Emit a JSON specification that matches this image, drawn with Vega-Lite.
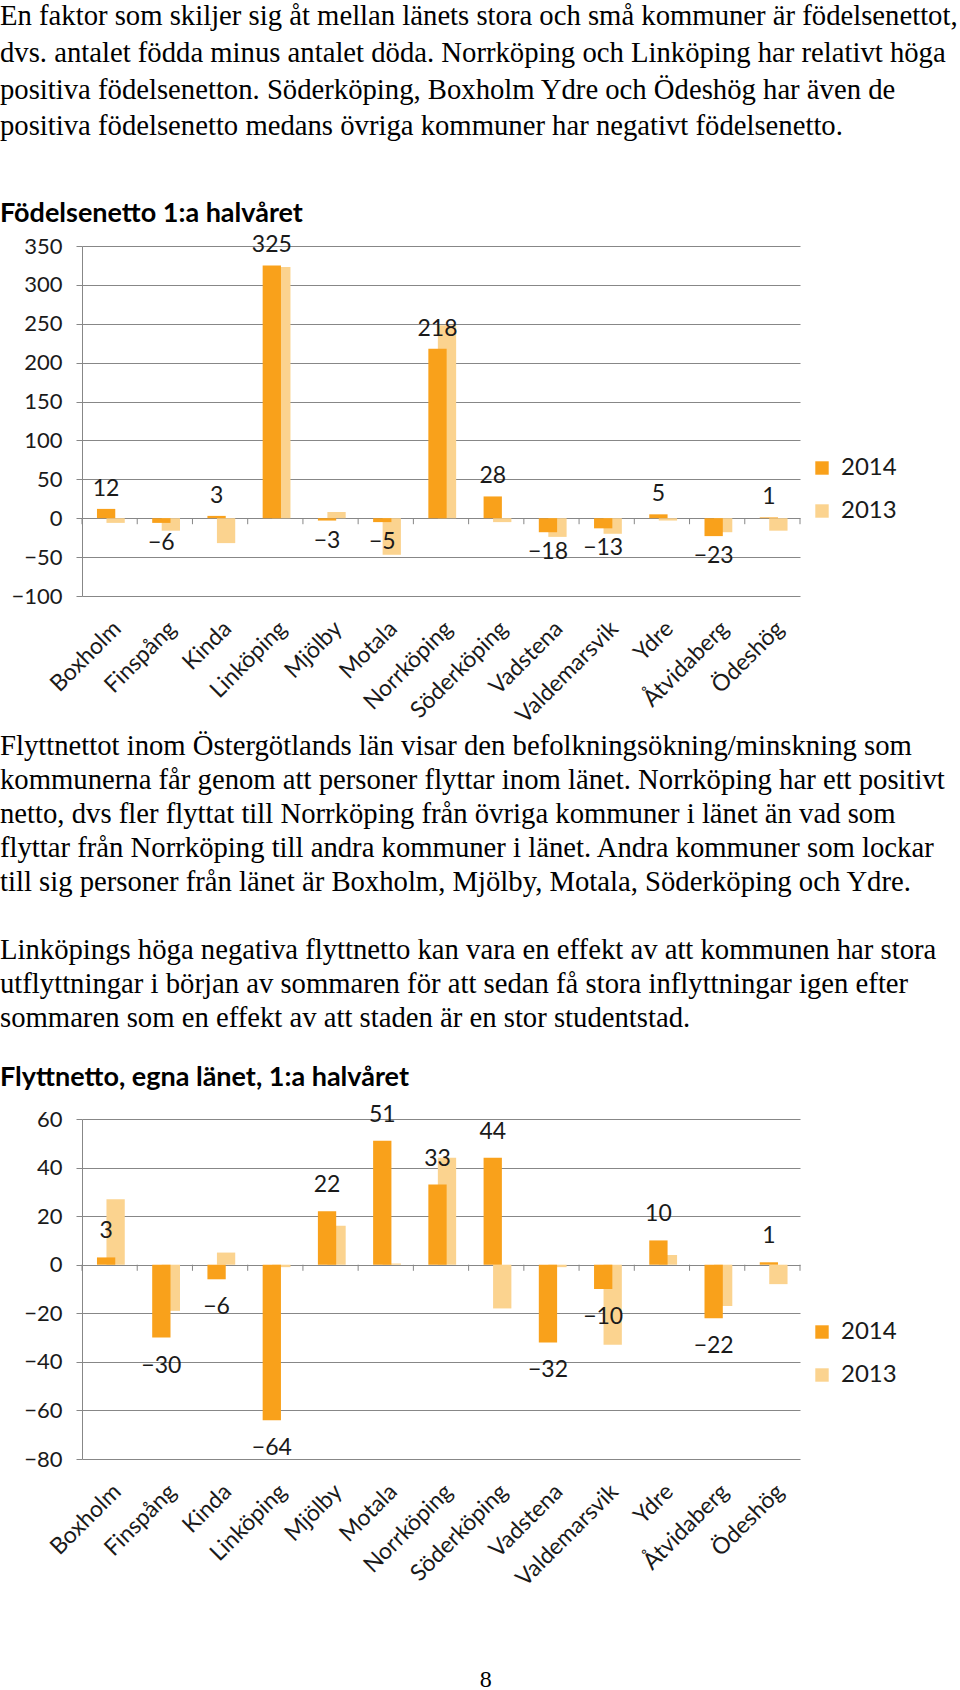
{
  "$schema": "https://vega.github.io/schema/vega-lite/v6.json",
  "padding": {"top": 2, "left": 0, "right": 0, "bottom": 0},
  "background": "white",
  "spacing": 0,
  "resolve": {"scale": {"color": "independent"}, "legend": {"color": "independent"}},
  "config": {
    "view": {"stroke": null},
    "title": {"anchor": "start", "frame": "bounds", "font": "Liberation Serif", "fontSize": 28.7, "fontWeight": "normal", "color": "#000000", "limit": 1000,
      "subtitleFont": "Lato", "subtitleFontSize": 27, "subtitleFontWeight": "bold", "subtitleColor": "#000000"}
  },
  "datasets": {
    "fodelse": [
      {"kommun": "Boxholm", "ar": "2014", "netto": 12}, {"kommun": "Boxholm", "ar": "2013", "netto": -6},
      {"kommun": "Finspång", "ar": "2014", "netto": -6}, {"kommun": "Finspång", "ar": "2013", "netto": -16},
      {"kommun": "Kinda", "ar": "2014", "netto": 3}, {"kommun": "Kinda", "ar": "2013", "netto": -32},
      {"kommun": "Linköping", "ar": "2014", "netto": 325}, {"kommun": "Linköping", "ar": "2013", "netto": 323},
      {"kommun": "Mjölby", "ar": "2014", "netto": -3}, {"kommun": "Mjölby", "ar": "2013", "netto": 8},
      {"kommun": "Motala", "ar": "2014", "netto": -5}, {"kommun": "Motala", "ar": "2013", "netto": -47},
      {"kommun": "Norrköping", "ar": "2014", "netto": 218}, {"kommun": "Norrköping", "ar": "2013", "netto": 248},
      {"kommun": "Söderköping", "ar": "2014", "netto": 28}, {"kommun": "Söderköping", "ar": "2013", "netto": -5},
      {"kommun": "Vadstena", "ar": "2014", "netto": -18}, {"kommun": "Vadstena", "ar": "2013", "netto": -24},
      {"kommun": "Valdemarsvik", "ar": "2014", "netto": -13}, {"kommun": "Valdemarsvik", "ar": "2013", "netto": -20},
      {"kommun": "Ydre", "ar": "2014", "netto": 5}, {"kommun": "Ydre", "ar": "2013", "netto": -3},
      {"kommun": "Åtvidaberg", "ar": "2014", "netto": -23}, {"kommun": "Åtvidaberg", "ar": "2013", "netto": -18},
      {"kommun": "Ödeshög", "ar": "2014", "netto": 1}, {"kommun": "Ödeshög", "ar": "2013", "netto": -16}
    ],
    "flytt": [
      {"kommun": "Boxholm", "ar": "2014", "netto": 3}, {"kommun": "Boxholm", "ar": "2013", "netto": 27},
      {"kommun": "Finspång", "ar": "2014", "netto": -30}, {"kommun": "Finspång", "ar": "2013", "netto": -19},
      {"kommun": "Kinda", "ar": "2014", "netto": -6}, {"kommun": "Kinda", "ar": "2013", "netto": 5},
      {"kommun": "Linköping", "ar": "2014", "netto": -64}, {"kommun": "Linköping", "ar": "2013", "netto": -1},
      {"kommun": "Mjölby", "ar": "2014", "netto": 22}, {"kommun": "Mjölby", "ar": "2013", "netto": 16},
      {"kommun": "Motala", "ar": "2014", "netto": 51}, {"kommun": "Motala", "ar": "2013", "netto": 0.5},
      {"kommun": "Norrköping", "ar": "2014", "netto": 33}, {"kommun": "Norrköping", "ar": "2013", "netto": 44},
      {"kommun": "Söderköping", "ar": "2014", "netto": 44}, {"kommun": "Söderköping", "ar": "2013", "netto": -18},
      {"kommun": "Vadstena", "ar": "2014", "netto": -32}, {"kommun": "Vadstena", "ar": "2013", "netto": -1},
      {"kommun": "Valdemarsvik", "ar": "2014", "netto": -10}, {"kommun": "Valdemarsvik", "ar": "2013", "netto": -33},
      {"kommun": "Ydre", "ar": "2014", "netto": 10}, {"kommun": "Ydre", "ar": "2013", "netto": 4},
      {"kommun": "Åtvidaberg", "ar": "2014", "netto": -22}, {"kommun": "Åtvidaberg", "ar": "2013", "netto": -17},
      {"kommun": "Ödeshög", "ar": "2014", "netto": 1}, {"kommun": "Ödeshög", "ar": "2013", "netto": -8}
    ]
  },
  "title": {"text": "8", "orient": "bottom", "anchor": "middle", "frame": "bounds", "font": "Liberation Serif", "fontSize": 24, "fontWeight": "normal", "offset": 74, "dx": 7},
  "vconcat": [
    {
      "width": 718,
      "height": 350,
      "title": {
        "text": [
          "En faktor som skiljer sig åt mellan länets stora och små kommuner är födelsenettot,",
          "dvs. antalet födda minus antalet döda. Norrköping och Linköping har relativt höga",
          "positiva födelsenetton. Söderköping, Boxholm Ydre och Ödeshög har även de",
          "positiva födelsenetto medans övriga kommuner har negativt födelsenetto."
        ],
        "subtitle": " Födelsenetto 1:a halvåret",
        "lineHeight": 36.6,
        "subtitlePadding": 60.5,
        "offset": 7
      },
      "data": {"name": "fodelse"},
      "encoding": {
        "x": {"field": "kommun", "type": "nominal", "sort": null, "scale": {"paddingInner": 0, "paddingOuter": 0},
          "axis": {"title": null, "labelAngle": -45, "labelFontSize": 23, "labelFont": "Lato", "labelColor": "#1a1a1a", "domain": false, "ticks": false, "labelPadding": 21, "labelDx": 0, "minExtent": 135, "labelLimit": 0}},
        "y": {"field": "netto", "type": "quantitative", "scale": {"domain": [-100, 350], "nice": false, "zero": false},
          "axis": {"values": [-100, -50, 0, 50, 100, 150, 200, 250, 300, 350], "title": null, "grid": true, "gridColor": "#878787", "domainColor": "#878787", "tickColor": "#878787", "tickSize": 6, "labelFontSize": 22, "labelFont": "Lato", "labelColor": "#1a1a1a", "labelPadding": 14, "minExtent": 82}}
      },
      "layer": [
        {
          "transform": [{"filter": "datum.ar == '2013'"}],
          "mark": {"type": "bar", "size": 18.3, "xOffset": 6},
          "encoding": {"color": {"field": "ar", "type": "nominal", "scale": {"domain": ["2014", "2013"], "range": ["#F9A11B", "#FBD38F"]},
            "legend": {"title": null, "orient": "none", "legendX": 728, "legendY": 210, "symbolType": "square", "symbolSize": 180, "symbolStrokeWidth": 0, "labelFontSize": 24, "labelFont": "Lato", "labelColor": "#1a1a1a", "rowPadding": 19, "labelOffset": 7}}}
        },
        {
          "transform": [{"filter": "datum.ar == '2014'"}],
          "mark": {"type": "bar", "size": 18.3, "xOffset": -3.5},
          "encoding": {"color": {"field": "ar", "type": "nominal"}}
        },
        {
          "transform": [{"filter": "datum.ar == '2014'"}],
          "mark": {"type": "rule", "color": "#878787"},
          "encoding": {"x": {"field": "kommun", "type": "nominal", "sort": null, "bandPosition": 0}, "y": {"datum": 0}, "y2": {"datum": -7.7}}
        },
        {
          "transform": [{"filter": "datum.ar == '2014' && datum.kommun == 'Ödeshög'"}],
          "mark": {"type": "rule", "color": "#878787"},
          "encoding": {"x": {"field": "kommun", "type": "nominal", "sort": null, "bandPosition": 1}, "y": {"datum": 0}, "y2": {"datum": -7.7}}
        },
        {
          "transform": [{"filter": "datum.ar == '2014' && datum.netto >= 0"}],
          "mark": {"type": "text", "dy": -20, "xOffset": -3.5, "font": "Lato", "fontSize": 23, "color": "#1a1a1a"},
          "encoding": {"text": {"field": "netto", "type": "quantitative"}}
        },
        {
          "transform": [{"filter": "datum.ar == '2014' && datum.netto < 0"}],
          "mark": {"type": "text", "dy": 20, "xOffset": -3.5, "font": "Lato", "fontSize": 23, "color": "#1a1a1a"},
          "encoding": {"text": {"field": "netto", "type": "quantitative"}}
        }
      ]
    },
    {
      "width": 718,
      "height": 340,
      "title": {
        "text": [
          "Flyttnettot inom Östergötlands län visar den befolkningsökning/minskning som",
          "kommunerna får genom att personer flyttar inom länet. Norrköping har ett positivt",
          "netto, dvs fler flyttat till Norrköping från övriga kommuner i länet än vad som",
          "flyttar från Norrköping till andra kommuner i länet. Andra kommuner som lockar",
          "till sig personer från länet är Boxholm, Mjölby, Motala, Söderköping och Ydre.",
          "\u2800",
          "Linköpings höga negativa flyttnetto kan vara en effekt av att kommunen har stora",
          "utflyttningar i början av sommaren för att sedan få stora inflyttningar igen efter",
          "sommaren som en effekt av att staden är en stor studentstad."
        ],
        "subtitle": " Flyttnetto, egna länet, 1:a halvåret",
        "lineHeight": 34,
        "subtitlePadding": 32.4,
        "offset": 13
      },
      "data": {"name": "flytt"},
      "encoding": {
        "x": {"field": "kommun", "type": "nominal", "sort": null, "scale": {"paddingInner": 0, "paddingOuter": 0},
          "axis": {"title": null, "labelAngle": -45, "labelFontSize": 23, "labelFont": "Lato", "labelColor": "#1a1a1a", "domain": false, "ticks": false, "labelPadding": 21, "labelDx": 0, "minExtent": 135, "labelLimit": 0}},
        "y": {"field": "netto", "type": "quantitative", "scale": {"domain": [-80, 60], "nice": false, "zero": false},
          "axis": {"values": [-80, -60, -40, -20, 0, 20, 40, 60], "title": null, "grid": true, "gridColor": "#878787", "domainColor": "#878787", "tickColor": "#878787", "tickSize": 6, "labelFontSize": 22, "labelFont": "Lato", "labelColor": "#1a1a1a", "labelPadding": 14, "minExtent": 82}}
      },
      "layer": [
        {
          "transform": [{"filter": "datum.ar == '2013'"}],
          "mark": {"type": "bar", "size": 18.3, "xOffset": 6},
          "encoding": {"color": {"field": "ar", "type": "nominal", "scale": {"domain": ["2014", "2013"], "range": ["#F9A11B", "#FBD38F"]},
            "legend": {"title": null, "orient": "none", "legendX": 728, "legendY": 201, "symbolType": "square", "symbolSize": 180, "symbolStrokeWidth": 0, "labelFontSize": 24, "labelFont": "Lato", "labelColor": "#1a1a1a", "rowPadding": 19, "labelOffset": 7}}}
        },
        {
          "transform": [{"filter": "datum.ar == '2014'"}],
          "mark": {"type": "bar", "size": 18.3, "xOffset": -3.5},
          "encoding": {"color": {"field": "ar", "type": "nominal"}}
        },
        {
          "transform": [{"filter": "datum.ar == '2014'"}],
          "mark": {"type": "rule", "color": "#878787"},
          "encoding": {"x": {"field": "kommun", "type": "nominal", "sort": null, "bandPosition": 0}, "y": {"datum": 0}, "y2": {"datum": -2.5}}
        },
        {
          "transform": [{"filter": "datum.ar == '2014' && datum.kommun == 'Ödeshög'"}],
          "mark": {"type": "rule", "color": "#878787"},
          "encoding": {"x": {"field": "kommun", "type": "nominal", "sort": null, "bandPosition": 1}, "y": {"datum": 0}, "y2": {"datum": -2.5}}
        },
        {
          "transform": [{"filter": "datum.ar == '2014' && datum.netto >= 0"}],
          "mark": {"type": "text", "dy": -26, "xOffset": -3.5, "font": "Lato", "fontSize": 23, "color": "#1a1a1a"},
          "encoding": {"text": {"field": "netto", "type": "quantitative"}}
        },
        {
          "transform": [{"filter": "datum.ar == '2014' && datum.netto < 0"}],
          "mark": {"type": "text", "dy": 28, "xOffset": -3.5, "font": "Lato", "fontSize": 23, "color": "#1a1a1a"},
          "encoding": {"text": {"field": "netto", "type": "quantitative"}}
        }
      ]
    }
  ]
}
